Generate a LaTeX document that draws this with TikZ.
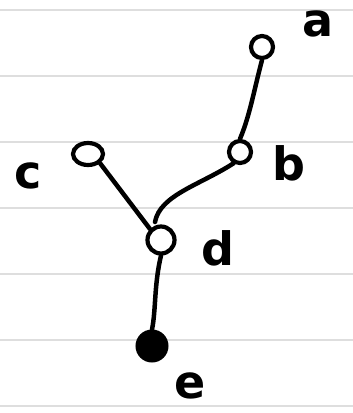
\documentclass[tikz,border=0pt]{standalone}
\usepackage{fontspec}
\setmainfont{DejaVu Sans}
\usetikzlibrary{shapes.geometric}
\begin{document}
\begin{tikzpicture}[x=1pt,y=-1pt,
  ruleline/.style={draw=black!13,line width=2pt},
  vtx/.style={circle,draw=black,line width=4.2pt,minimum size=22pt,inner sep=0pt},
  filledvtx/.style={circle,draw=black,fill=black,line width=3pt,minimum size=30pt,inner sep=0pt},
  edge/.style={draw=black,line width=4.5pt,line cap=round},
  lbl/.style={font=\fontsize{46}{46}\selectfont\bfseries,inner sep=0pt}]
\useasboundingbox (0,0) rectangle (353,413);
\foreach \yy in {10,76,142,208,274,340,406}
  \draw[ruleline] (0,\yy) -- (353,\yy);
\node[vtx] (a) at (262,47) {};
\node[vtx] (b) at (240,152) {};
\node[ellipse,draw=black,line width=4.2pt,inner sep=0pt,minimum width=30pt,minimum height=22pt] (c) at (88,154) {};
\node[vtx,minimum size=27pt] (d) at (161,240) {};
\node[filledvtx] (e) at (152,346) {};
\node[lbl] (la) at (318,24) {a};
\node[lbl] (lb) at (289,163) {b};
\node[lbl] (lc) at (28,176) {c};
\node[lbl] (ld) at (218,248) {d};
\node[lbl] (le) at (190,386) {e};
\coordinate (bdend) at (155,222);
\draw[edge] (a.south) .. controls (254,90) and (250,115) .. (b.north);
\draw[edge] (b.240) .. controls (200,185) and (160,195) .. (bdend);
\draw[edge] (c.south east) -- (d.north west);
\draw[edge] (d.south) .. controls (154,285) and (156,310) .. (e.north);
\end{tikzpicture}
\end{document}
